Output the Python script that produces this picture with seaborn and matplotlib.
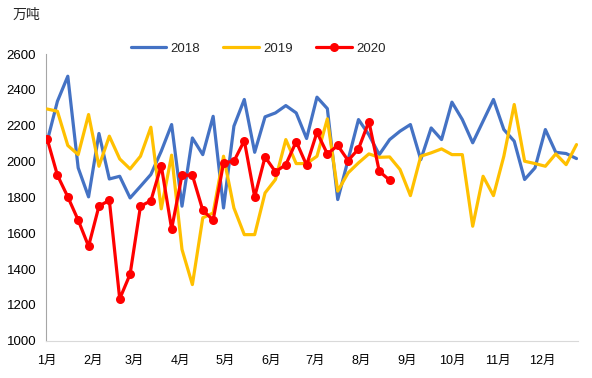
import numpy as np
import pandas as pd
import matplotlib
matplotlib.use("Agg")
import matplotlib.pyplot as plt
import seaborn as sns

# weekly output (万吨)
vals_2018 = [2110, 2337, 2477, 1965, 1803, 2157, 1903, 1918, 1797, 1862,
             1928, 2058, 2207, 1751, 2132, 2039, 2253, 1741, 2198, 2347,
             2052, 2250, 2272, 2313, 2272, 2129, 2360, 2296, 1788, 2010,
             2235, 2150, 2039, 2123, 2170, 2207, 2011, 2188, 2123, 2332,
             2235, 2105, 2226, 2347, 2179, 2114, 1900, 1965, 2179, 2052,
             2045, 2017]
vals_2019 = [2294, 2281, 2090, 2039, 2263, 1974, 2142, 2015, 1959, 2030,
             2192, 1736, 2036, 1509, 1313, 1686, 1713, 2030, 1741, 1592,
             1592, 1825, 1900, 2123, 1989, 1989, 2030, 2239, 1835, 1937,
             1993, 2043, 2024, 2026, 1956, 1810, 2030, 2049, 2071, 2039,
             2039, 1639, 1918, 1810, 2030, 2319, 2002, 1989, 1974, 2043,
             1983, 2095]
vals_2020 = [2129, 1924, 1803, 1673, 1527, 1751, 1784, 1233, 1371, 1751,
             1781, 1978, 1624, 1924, 1924, 1728, 1673, 1993, 2002, 2117,
             1803, 2026, 1943, 1983, 2112, 1980, 2164, 2043, 2090, 2006,
             2071, 2224, 1946, 1896]

series_names = ["2018", "2019", "2020"]
series_colors = ["#4472C4", "#FFC000", "#FF0000"]
month_labels = [f"{m}月" for m in range(1, 13)]
y_ticks = [1000, 1200, 1400, 1600, 1800, 2000, 2200, 2400, 2600]
unit_label = "万吨"

sns.set_style("white")
plt.rcParams["font.family"] = ["Liberation Sans", "Noto Sans CJK SC", "DejaVu Sans"]

# x as day-of-year: weekly points, month ticks at month starts (date axis)
month_start = pd.date_range("2018-01-01", periods=12, freq="MS").dayofyear - 1

fig = plt.figure(figsize=(5.92, 3.78), dpi=100)
ax = fig.add_axes([46 / 592, 1 - 340.6 / 378, (578 - 46) / 592, (340.6 - 54.2) / 378])

for name, vals, color in zip(series_names, [vals_2018, vals_2019, vals_2020], series_colors):
    df = pd.DataFrame({"day": np.arange(len(vals)) * 7, "value": vals})
    if name == "2020":
        sns.lineplot(data=df, x="day", y="value", ax=ax, color=color, lw=2.3,
                     marker="o", markersize=6.5, markeredgewidth=0, label=name, zorder=4)
    else:
        sns.lineplot(data=df, x="day", y="value", ax=ax, color=color, lw=2.3,
                     label=name, zorder=3)

ax.set_xlim(-0.7, 358)
ax.set_ylim(1000, 2600)
ax.set_xticks(month_start)
ax.set_xticklabels(month_labels)
ax.set_yticks(y_ticks)
ax.set_xlabel("")
ax.set_ylabel("")

for s in ["top", "right"]:
    ax.spines[s].set_visible(False)
ax.spines["left"].set_color("#A6A6A6")
ax.spines["bottom"].set_color("#D9D9D9")
ax.tick_params(axis="y", length=4, width=0.8, color="#A6A6A6", pad=3, labelsize=9.5, labelcolor="black")
ax.tick_params(axis="x", length=4, width=0.8, color="#D9D9D9", pad=6, labelsize=9, labelcolor="black")

handles, labels = ax.get_legend_handles_labels()
ax.legend_.remove()
fig.legend(handles, labels, loc="center", bbox_to_anchor=(258 / 592, 1 - 49 / 378),
           ncol=3, frameon=False, fontsize=9.5, handlelength=2.7, handletextpad=0.3,
           columnspacing=1.8)

fig.text(26 / 592, 1 - 15 / 378, unit_label, ha="center", va="center", fontsize=10,
         family=["Noto Sans CJK SC", "DejaVu Sans"])

fig.savefig("out.png", dpi=100)
